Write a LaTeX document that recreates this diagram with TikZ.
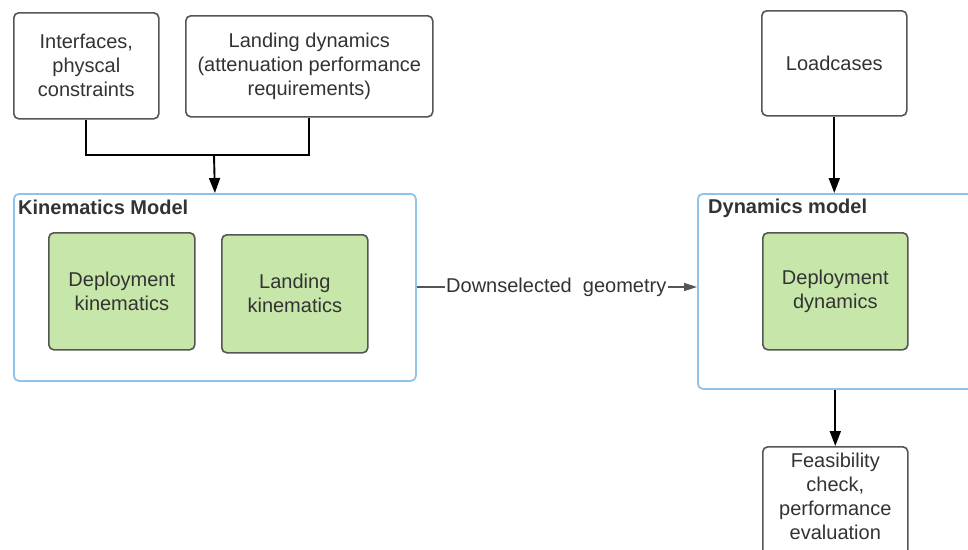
\documentclass[tikz,border=0pt]{standalone}
\usepackage{fontspec}
\setmainfont{Liberation Sans}
\usetikzlibrary{arrows.meta}
\definecolor{txtc}{HTML}{333333}
\definecolor{boxc}{HTML}{555555}
\definecolor{greenf}{HTML}{C7E6A9}
\definecolor{bluec}{HTML}{8EC4EA}
\begin{document}
\begin{tikzpicture}[x=1pt,y=-1pt,
  font=\fontsize{20}{24}\selectfont, text=txtc,
  plain/.style={draw=boxc, line width=1.6pt, rounded corners=5pt, fill=white, align=center, anchor=north west, inner sep=0pt},
  greenbox/.style={plain, fill=greenf},
  container/.style={draw=bluec, line width=1.8pt, rounded corners=5pt, fill=white, anchor=north west, inner sep=0pt},
  title/.style={font=\fontsize{20}{24}\selectfont\bfseries, anchor=west, inner sep=0pt},
  conn/.style={line width=1.9pt, black},
  arr/.style={conn, -{Triangle[length=15pt,width=11pt]}},
  garr/.style={line width=1.5pt, boxc, -{Triangle[length=13pt,width=8pt]}}]
\useasboundingbox (0,0) rectangle (968,549);
% top inputs
\node[plain, minimum width=145pt, minimum height=106pt] (iface) at (13,12) {Interfaces,\\physcal\\constraints};
\node[plain, minimum width=247pt, minimum height=101pt] (landdyn) at (185,15) {Landing dynamics\\(attenuation performance\\requirements)};
\node[plain, minimum width=145pt, minimum height=105pt] (loads) at (761,10) {Loadcases};
% containers
\node[container, minimum width=402pt, minimum height=187pt] (kin) at (13,193) {};
\node[title] (kintitle) at (18,207) {Kinematics Model};
\node[greenbox, minimum width=146pt, minimum height=117pt] (depkin) at (48,232) {Deployment\\kinematics};
\node[greenbox, minimum width=146pt, minimum height=118pt] (landkin) at (221,234) {Landing\\kinematics};
\node[container, minimum width=280pt, minimum height=195pt] (dyn) at (697,193) {};
\node[title] (dyntitle) at (708,208) {Dynamics model};
\node[greenbox, minimum width=145pt, minimum height=117pt] (depdyn) at (762,232) {Deployment\\dynamics};
% output
\node[plain, minimum width=145pt, minimum height=130pt] (feas) at (762,446) {};
\node[anchor=north, align=center, inner sep=0pt] (feastxt) at ([yshift=-7pt]feas.north) {Feasibility\\check,\\performance\\evaluation};
% label
\node[anchor=west, inner sep=1pt] (down) at (445,287) {Downselected\ \ geometry};
% connectors
\coordinate (join) at (214,155);
\draw[conn] (iface.south) |- (join);
\draw[conn] (landdyn.south) |- (join);
\draw[arr] (join) -- (kin.north);
\draw[arr] (loads.south) -- (dyn.north -| loads.south);
\draw[arr] (dyn.south -| feas.north) -- (feas.north);
\draw[line width=1.5pt, boxc] (kin.east |- down.west) -- (down.west);
\draw[garr] (down.east) -- (dyn.west |- down.east);
\end{tikzpicture}
\end{document}
